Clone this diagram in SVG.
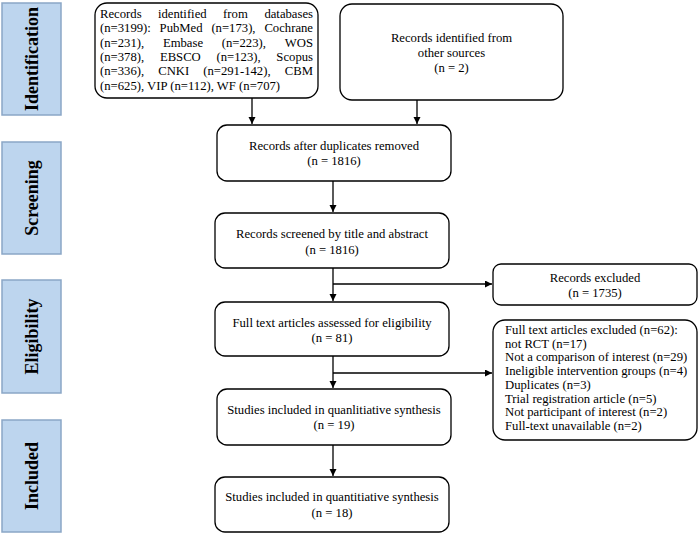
<svg xmlns="http://www.w3.org/2000/svg" width="700" height="536" viewBox="0 0 700 536">
<defs>
<style>
.stage rect{fill:#bdd5ee;stroke:#8ba6c6;stroke-width:1.5}
.stage text{font-family:"Liberation Serif","Times New Roman",serif;font-weight:bold;font-size:18px;fill:#000;text-anchor:middle}
.box rect{fill:#fff;stroke:#000;stroke-width:1.3}
.box text{font-family:"Liberation Serif","Times New Roman",serif;font-size:12.7px;fill:#000}
.c{text-anchor:middle}
.e{text-anchor:end}
.conn line{stroke:#000;stroke-width:1.3;fill:none}
</style>
<marker id="ah" markerUnits="userSpaceOnUse" markerWidth="8" markerHeight="8" refX="7" refY="3.5" orient="auto">
<path d="M0,0 L7,3.5 L0,7 Z" fill="#000"/>
</marker>
</defs>
<rect width="700" height="536" fill="#fff"/>

<g id="stage-identification" class="stage">
<rect x="2" y="3" width="59" height="112"/>
<text transform="translate(38,59) rotate(-90)">Identification</text>
</g>
<g id="stage-screening" class="stage">
<rect x="2" y="142" width="59" height="112"/>
<text transform="translate(38,198) rotate(-90)">Screening</text>
</g>
<g id="stage-eligibility" class="stage">
<rect x="2" y="280" width="59" height="113"/>
<text transform="translate(38,336.5) rotate(-90)">Eligibility</text>
</g>
<g id="stage-included" class="stage">
<rect x="2" y="420" width="59" height="112"/>
<text transform="translate(38,476) rotate(-90)">Included</text>
</g>

<g id="conns" class="conn">
<line x1="252" y1="98" x2="252" y2="124" marker-end="url(#ah)"/>
<line x1="417" y1="100" x2="417" y2="124" marker-end="url(#ah)"/>
<line x1="333" y1="181" x2="333" y2="212" marker-end="url(#ah)"/>
<line x1="333" y1="268" x2="333" y2="301" marker-end="url(#ah)"/>
<line x1="333" y1="284" x2="492" y2="284" marker-end="url(#ah)"/>
<line x1="333" y1="356" x2="333" y2="388" marker-end="url(#ah)"/>
<line x1="333" y1="373" x2="492" y2="373" marker-end="url(#ah)"/>
<line x1="333" y1="445" x2="333" y2="476" marker-end="url(#ah)"/>
</g>

<g id="n-databases" class="box">
<rect x="95" y="3" width="223" height="95" rx="12"/>
<text y="18"><tspan x="100">Records</tspan><tspan x="158">identified</tspan><tspan x="223.1">from</tspan></text>
<text class="e" x="313" y="18">databases</text>
<text y="32.3"><tspan x="100">(n=3199):</tspan><tspan x="159.6">PubMed</tspan><tspan x="211.4">(n=173),</tspan></text>
<text class="e" x="313" y="32.3">Cochrane</text>
<text y="46.6"><tspan x="100">(n=231),</tspan><tspan x="162.9">Embase</tspan><tspan x="221.8">(n=223),</tspan></text>
<text class="e" x="313" y="46.6">WOS</text>
<text y="60.9"><tspan x="100">(n=378),</tspan><tspan x="159.9">EBSCO</tspan><tspan x="216.5">(n=123),</tspan></text>
<text class="e" x="313" y="60.9">Scopus</text>
<text y="75.2"><tspan x="100">(n=336),</tspan><tspan x="158.2">CNKI</tspan><tspan x="203.2">(n=291-142),</tspan></text>
<text class="e" x="313" y="75.2">CBM</text>
<text x="100" y="89.5">(n=625), VIP (n=112), WF (n=707)</text>
</g>

<g id="n-other" class="box">
<rect x="340" y="4" width="223" height="96" rx="12"/>
<text class="c" x="451.5" y="42">Records identified from</text>
<text class="c" x="451.5" y="57">other sources</text>
<text class="c" x="451.5" y="72">(n = 2)</text>
</g>

<g id="n-duplicates" class="box">
<rect x="217" y="125" width="234" height="56" rx="10"/>
<text class="c" x="334" y="149.5">Records after duplicates removed</text>
<text class="c" x="334" y="165">(n = 1816)</text>
</g>

<g id="n-screened" class="box">
<rect x="215" y="213" width="234" height="55" rx="10"/>
<text class="c" x="332" y="238">Records screened by title and abstract</text>
<text class="c" x="332" y="253.5">(n = 1816)</text>
</g>

<g id="n-excluded" class="box">
<rect x="493" y="264" width="204" height="41" rx="8"/>
<text class="c" x="595" y="282">Records excluded</text>
<text class="c" x="595" y="297">(n = 1735)</text>
</g>

<g id="n-fulltext" class="box">
<rect x="215" y="302" width="234" height="54" rx="10"/>
<text class="c" x="332" y="327">Full text articles assessed for eligibility</text>
<text class="c" x="332" y="342">(n = 81)</text>
</g>

<g id="n-ftexcluded" class="box">
<rect x="493" y="320" width="204" height="120" rx="12"/>
<text x="505" y="334">Full text articles excluded (n=62):</text>
<text x="505" y="347.7">not RCT (n=17)</text>
<text x="505" y="361.4">Not a comparison of interest (n=29)</text>
<text x="505" y="375.1">Ineligible intervention groups (n=4)</text>
<text x="505" y="388.8">Duplicates (n=3)</text>
<text x="505" y="402.5">Trial registration article (n=5)</text>
<text x="505" y="416.2">Not participant of interest (n=2)</text>
<text x="505" y="429.9">Full-text unavailable (n=2)</text>
</g>

<g id="n-qualitative" class="box">
<rect x="217" y="389" width="234" height="56" rx="10"/>
<text class="c" x="334" y="413.5">Studies included in quanlitiative synthesis</text>
<text class="c" x="334" y="429">(n = 19)</text>
</g>

<g id="n-quantitative" class="box">
<rect x="215" y="477" width="234" height="55" rx="10"/>
<text class="c" x="332" y="501">Studies included in quantitiative synthesis</text>
<text class="c" x="332" y="516.5">(n = 18)</text>
</g>
</svg>
